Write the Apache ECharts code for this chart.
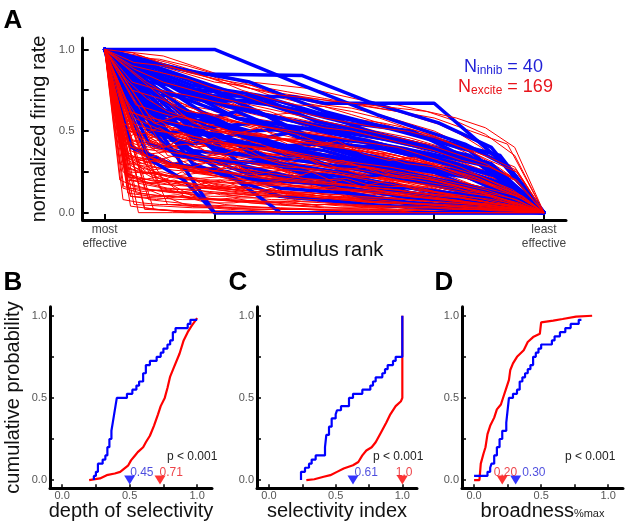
<!DOCTYPE html>
<html><head><meta charset="utf-8">
<script src="https://cdn.jsdelivr.net/npm/echarts@6/dist/echarts.min.js"></script>
<style>html,body{margin:0;padding:0;background:#fff}#c{width:625px;height:525px}</style>
</head><body><div id="c"></div>
<script>
// ---------- Panel A data ----------
// inhibitory neurons: [normalized rank, normalized rate]
const inhibCurves = [
 [[0,1],[.25,1],[.44,.79],[.62,.6],[.82,.42],[.92,.28],[1,0]],
 [[0,1],[.12,.72],[.43,.71],[.5,.67],[.75,.67],[.9,.32],[1,0]],
 [[0,1],[.25,0],[1,0]],
 [[0,1],[.14,.9],[.22,.85],[.45,.84],[.6,.68],[.76,.55],[.88,.4],[1,0]],
 [[0,1],[.1,.33],[.18,.2],[.25,0],[1,0]],
 [[0,1],[.19,.82],[.36,.6],[.55,.5],[.72,.4],[.86,.3],[1,0]],
 [[0,1],[.08,.7],[.2,.55],[.3,.62],[.45,.45],[.6,.35],[.8,.25],[1,0]],
 [[0,1],[.2,.6],[.33,.5],[.5,.52],[.65,.38],[.78,.3],[.9,.22],[1,0]],
 [[0,1],[.1,.8],[.3,.72],[.55,.55],[.7,.5],[.85,.3],[1,0]],
 [[0,1],[.15,.45],[.3,.2],[.4,0],[1,0]],
 [[0,1],[.12,.6],[.25,.4],[.38,.3],[.5,.2],[.62,.15],[.75,.1],[.88,.05],[1,0]],
 [[0,1],[.1,.5],[.2,.42],[.3,.48],[.42,.38],[.55,.3],[.7,.22],[.85,.12],[1,0]],
 [[0,1],[.17,.75],[.28,.65],[.4,.58],[.52,.5],[.64,.45],[.78,.38],[.9,.25],[1,0]],
 [[0,1],[.05,.8],[.14,.55],[.25,.48],[.36,.4],[.48,.42],[.6,.32],[.74,.25],[.87,.2],[1,0]],
 [[0,1],[.22,.62],[.35,.45],[.48,.35],[.6,.25],[.73,.18],[.86,.1],[1,0]],
 [[0,1],[.08,.58],[.16,.35],[.3,.3],[.42,.22],[.56,.2],[.7,.12],[.85,.08],[1,0]],
 [[0,1],[.13,.83],[.26,.7],[.38,.66],[.5,.6],[.62,.48],[.75,.4],[.88,.3],[1,0]],
 [[0,1],[.2,.45],[.4,.4],[.6,.2],[.8,.1],[1,0]],
 [[0,1],[.1,.65],[.22,.52],[.35,.55],[.45,.48],[.58,.4],[.7,.38],[.82,.28],[.92,.2],[1,0]],
 [[0,1],[.33,.7],[.5,.55],[.67,.45],[.83,.35],[1,0]],
 [[0,1],[.06,.4],[.15,.3],[.28,.25],[.4,.15],[.55,.12],[.7,.06],[.85,.03],[1,0]],
 [[0,1],[.25,.38],[.5,.3],[.75,.18],[1,0]],
 [[0,1],[.09,.78],[.18,.7],[.3,.58],[.4,.5],[.52,.45],[.63,.42],[.76,.35],[.88,.28],[1,0]],
 [[0,1],[.14,.68],[.28,.45],[.42,.28],[.56,.12],[.7,.05],[.85,.02],[1,0]],
 [[0,1],[.2,.3],[.4,.1],[.6,.05],[.8,.02],[1,0]],
 [[0,1],[.11,.55],[.22,.6],[.33,.44],[.44,.5],[.56,.36],[.67,.3],[.78,.25],[.89,.18],[1,0]],
 [[0,1],[.17,.88],[.33,.8],[.5,.62],[.67,.5],[.83,.38],[1,0]],
 [[0,1],[.12,.48],[.24,.52],[.36,.32],[.48,.27],[.6,.22],[.72,.28],[.84,.15],[1,0]],
 [[0,1],[.07,.62],[.2,.38],[.33,.35],[.45,.25],[.6,.2],[.72,.1],[.86,.05],[1,0]],
 [[0,1],[.25,.75],[.38,.58],[.5,.42],[.62,.4],[.75,.32],[.88,.2],[1,0]],
 [[0,1],[.1,.42],[.25,.32],[.4,.3],[.55,.18],[.7,.15],[.85,.1],[1,0]],
 [[0,1],[.15,.66],[.3,.5],[.45,.38],[.6,.3],[.72,.26],[.85,.22],[.95,.12],[1,0]],
 [[0,1],[.3,.58],[.45,.52],[.6,.44],[.8,.3],[.92,.2],[1,0]],
 [[0,1],[.05,.72],[.12,.5],[.22,.35],[.36,.2],[.48,.18],[.6,.08],[.75,.05],[.9,.02],[1,0]],
 [[0,1],[.2,.7],[.35,.62],[.5,.4],[.6,.35],[.7,.3],[.82,.25],[.94,.15],[1,0]],
 [[0,1],[.13,.6],[.25,.55],[.38,.42],[.5,.38],[.63,.28],[.75,.2],[.88,.14],[1,0]],
 [[0,1],[.1,.88],[.2,.78],[.35,.72],[.5,.6],[.65,.52],[.8,.42],[.9,.35],[1,0]],
 [[0,1],[.33,.25],[.67,.1],[1,0]],
 [[0,1],[.18,.5],[.3,.44],[.42,.35],[.55,.32],[.68,.25],[.8,.18],[.92,.1],[1,0]],
 [[0,1],[.08,.85],[.16,.78],[.26,.68],[.36,.7],[.48,.56],[.6,.5],[.72,.42],[.85,.32],[1,0]]
];
// excitatory neurons: normalized rate (%) for each stimulus, ordered by rank
const exciteCurves = [
 [100,95,90,85,80,78,72,68,65,60,55,50,45,38,30,20,0],
 [100,98,92,86,82,75,70,66,65,62,58,52,47,40,32,25,0],
 [100,90,88,80,76,70,68,62,58,55,50,48,42,35,28,0],
 [100,85,82,76,70,66,60,58,55,52,48,44,40,35,30,22,15,0],
 [100,80,75,72,68,65,62,56,52,50,46,42,38,32,28,20,0],
 [100,92,84,78,70,62,58,52,48,45,40,35,30,26,20,0],
 [100,70,68,65,60,58,55,50,48,44,40,38,32,28,22,15,0],
 [100,75,70,62,60,55,52,48,42,40,35,30,28,22,18,12,0],
 [100,60,58,55,52,50,48,45,42,38,35,32,30,26,22,18,12,0],
 [100,65,62,58,54,50,46,44,40,36,32,30,28,24,20,14,0],
 [100,55,50,48,45,42,40,38,35,32,30,28,25,22,18,14,10,0],
 [100,50,46,44,40,38,36,32,30,28,26,24,20,18,14,10,0],
 [100,45,42,40,38,35,32,30,28,26,24,22,20,18,15,12,8,5,0],
 [100,40,38,36,34,32,30,28,27,25,22,20,18,15,12,10,6,0],
 [100,35,32,30,28,27,26,24,22,20,19,18,16,14,12,10,8,5,0],
 [100,30,28,26,25,24,22,21,20,18,17,16,14,12,10,8,6,4,2,0],
 [100,25,24,22,20,19,18,17,16,15,14,13,12,10,9,8,6,5,3,0],
 [100,20,18,17,16,15,14,13,12,11,10,9,8,7,6,5,4,3,2,1,0],
 [100,15,14,13,12,12,11,10,9,9,8,7,6,5,5,4,3,2,1,0],
 [100,10,9,8,8,7,7,6,5,5,4,4,3,3,2,2,1,0],
 [100,5,4,3,3,2,2,2,1,1,1,0,0,0,0,0],
 [100,2,1,1,0,0,0,0,0,0,0,0],
 [100,28,20,18,15,13,12,10,8,7,6,5,4,3,2,0],
 [100,38,30,25,22,20,18,15,12,10,9,8,6,4,2,0],
 [100,48,40,35,32,30,28,25,22,20,18,15,12,9,5,0],
 [100,58,50,45,42,40,38,34,30,28,25,22,18,14,8,0],
 [100,68,60,55,50,48,45,42,38,35,32,28,24,18,10,0],
 [100,78,70,65,62,58,55,50,46,42,38,34,30,24,16,0],
 [100,88,80,75,70,66,62,58,54,50,46,42,36,30,20,0],
 [100,95,94,90,85,80,74,70,66,64,60,55,50,42,34,25,0],
 [100,40,32,28,22,18,14,10,5,0],
 [100,55,45,40,35,30,24,18,10,0],
 [100,70,60,52,45,38,30,22,12,0],
 [100,30,25,20,18,15,12,8,4,0],
 [100,20,15,12,10,8,6,4,2,0],
 [100,85,72,62,55,46,38,28,15,0],
 [100,50,40,32,25,18,10,0],
 [100,35,28,22,16,10,5,0],
 [100,62,48,40,32,22,12,0],
 [100,80,62,50,40,30,15,0],
 [100,35,30,33,28,26,28,24,22,23,20,19,18,20,16,15,14,12,11,10,8,6,5,3,0],
 [100,45,50,42,40,44,38,36,38,32,30,32,28,26,27,24,22,20,18,15,12,10,7,4,0],
 [100,25,20,22,18,15,17,14,12,14,11,10,9,10,8,7,6,5,5,4,3,2,1,1,0],
 [100,55,48,52,45,42,46,40,38,40,35,34,30,32,28,26,22,20,18,16,12,10,6,3,0],
 [100,15,12,10,11,9,8,9,7,6,7,5,5,4,4,3,3,2,2,1,1,1,0,0,0],
 [100,65,58,60,55,52,54,48,45,47,42,40,38,40,35,32,30,28,25,20,16,12,8,4,0],
 [100,8,6,5,5,4,4,3,3,3,2,2,2,1,1,1,1,0,0,0,0,0,0,0,0],
 [100,42,36,38,30,32,28,25,26,22,20,22,18,15,16,12,10,8,5,0],
 [100,52,46,48,42,40,42,36,34,35,30,28,29,25,22,20,16,12,6,0],
 [100,22,18,20,16,15,16,13,12,12,10,9,9,8,7,6,5,3,2,0],
 [100,32,26,28,24,22,22,20,18,17,16,14,14,12,10,9,7,5,3,0],
 [100,72,66,68,60,58,60,54,50,52,46,44,42,38,36,32,28,22,12,0],
 [100,12,10,10,8,8,7,6,6,5,5,4,4,3,3,2,2,1,1,0],
 [100,40,30,34,26,28,22,20,18,15,12,10,6,0],
 [100,60,52,55,48,44,46,40,36,32,28,20,12,0],
 [100,18,14,15,12,10,11,9,8,6,5,4,2,0],
 [100,76,70,72,64,60,62,56,50,46,40,32,20,0],
 [100,28,22,25,20,18,19,16,14,12,10,8,4,0],
 [100,3,0,0,0,0,0,0,0,0,0,0],
 [100,4,2,1,1,1,0,0,0,0,0,0,0,0,0,0,0,0],
 [100,15,5,3,2,2,1,1,0,0,0,0],
 [100,45,35,30,28,26,24,22,20,19,18,17,16,15,14,12,10,9,7,5,3,0],
 [100,58,45,40,36,34,32,30,28,27,26,25,24,22,20,18,16,14,12,8,4,0],
 [100,68,55,48,45,42,40,38,36,35,34,33,31,29,27,24,21,18,15,10,5,0],
 [100,82,70,62,58,54,50,48,46,45,44,42,40,38,35,32,28,24,20,14,8,0],
 [100,35,25,22,20,19,18,17,16,15,14,13,12,11,10,9,8,6,5,3,2,0],
 [100,25,18,15,14,13,12,11,10,9,9,8,8,7,6,5,4,3,2,2,1,0],
 [100,90,80,72,65,60,56,54,52,50,48,46,44,42,40,36,32,28,22,16,10,0],
 [100,97,95,92,88,84,80,76,74,72,70,68,66,64,62,58,54,48,40,30,18,0],
 [100,98,96,90,84,80,78,76,72,68,66,62,56,48,35,0],
 [100,92,90,86,80,76,72,70,68,66,64,62,58,52,40,0],
 [100,96,88,82,78,74,70,66,62,58,50,42,0],
 [100,20,18,25,15,14,20,12,11,15,9,8,12,6,5,4,2,0],
 [100,30,35,26,24,30,22,20,25,18,16,20,14,12,10,8,5,0],
 [100,50,44,52,40,38,45,34,32,38,28,26,30,22,18,14,8,0],
 [100,38,32,36,30,28,32,25,22,26,20,18,20,15,12,9,5,0],
 [100,62,55,60,50,48,52,44,40,44,36,32,34,28,22,16,10,0],
 [100,15,8,5,3,2,1,0,0],
 [100,45,30,22,15,10,6,3,0],
 [100,60,45,38,30,25,20,15,10,5,0],
 [100,25,20,16,13,10,8,6,4,2,0],
 [100,8,5,4,3,2,2,1,1,0,0],
 [100,30,26,24,23,22,21,20,20,19,18,17,17,16,15,14,14,13,12,11,10,9,8,7,6,5,4,3,1,0],
 [100,48,42,40,38,36,35,34,33,32,31,30,29,28,27,26,25,24,22,20,18,16,14,12,10,8,6,4,2,0],
 [100,20,16,14,13,12,11,10,10,9,9,8,8,7,7,6,6,5,5,4,4,3,3,2,2,1,1,1,0,0],
 [100,40,34,32,30,28,27,26,25,24,23,22,21,20,19,18,17,16,15,14,13,12,11,10,8,7,5,4,2,0],
 [100,58,52,50,48,46,44,43,42,41,40,38,37,36,35,34,32,31,30,28,26,24,22,20,17,14,11,8,4,0],
 [100,33,28,26,24,20,22,18,16,18,14,12,8,5,0],
 [100,12,10,9,8,7,7,6,5,4,4,3,2,1,0],
 [100,48,40,38,35,36,30,28,30,25,22,18,14,8,0],
 [100,86,78,70,65,60,58,54,50,46,42,38,30,22,0],
 [100,66,60,56,50,48,44,42,38,36,32,28,22,14,0],
 [100,50,48,45,40,42,38,35,36,30,28,30,24,22,20,16,14,10,6,0],
 [100,35,30,28,25,26,22,20,22,18,16,17,14,12,10,9,7,5,3,0],
 [100,62,58,55,52,50,48,46,44,42,40,38,36,32,30,26,22,16,10,0],
 [100,74,68,64,60,58,55,52,50,48,46,44,42,40,36,32,26,20,12,0],
 [100,85,82,78,74,70,68,66,64,62,60,57,55,52,48,42,36,28,18,0],
 [100,22,20,19,17,16,15,14,13,12,11,10,9,8,7,6,5,3,2,0],
 [100,40,30,20,12,5,0],
 [100,65,50,38,25,12,0],
 [100,55,38,22,10,0],
 [100,20,10,5,2,0],
 [100,44,38,40,35,34,36,31,30,31,27,26,27,24,22,22,19,17,15,13,10,7,4,0],
 [100,28,24,25,22,21,22,19,18,19,16,15,16,13,12,12,10,9,8,6,5,3,2,0],
 [100,70,64,66,60,58,58,55,52,52,48,46,46,42,40,38,34,30,26,22,18,12,6,0],
 [100,16,13,14,12,11,12,10,9,10,8,8,8,7,6,6,5,4,4,3,2,2,1,0],
 [100,90,86,82,76,72,66,62,58,55,52,50,46,40,34,26,0],
 [100,78,74,70,66,62,58,55,52,48,45,42,38,34,28,20,0],
 [100,56,50,52,46,44,42,40,36,34,32,30,26,22,16,10,0],
 [100,44,40,42,36,34,34,30,28,27,24,22,20,16,12,8,0],
 [100,0,0,0,0,0,0,0,0,0,0,0,0,0],
 [100,2,0,0,0,0,0,0,0,0],
 [100,5,2,0,0,0,0,0],
 [100,30,10,5,3,2,1,1,0,0,0,0],
 [100,50,20,10,8,6,5,4,3,3,2,2,1,1,0,0],
 [100,60,40,30,25,22,20,18,17,16,15,14,13,12,10,8,6,4,2,0],
 [100,80,60,50,45,42,40,38,36,34,32,30,28,26,24,20,16,12,6,0],
 [100,92,75,62,55,50,45,40,35,28,20,12,0],
 [100,70,50,40,35,32,30,28,27,26,25,24,22,21,20,18,16,14,12,8,4,0],
 [100,10,8,10,6,6,8,5,4,6,3,3,4,2,2,1,1,0],
 [100,36,30,27,32,26,24,28,22,20,23,18,17,20,15,13,15,11,9,10,7,5,3,0],
 [100,52,44,40,46,38,36,40,33,31,34,28,26,28,23,21,22,18,15,12,8,4,0],
 [100,24,20,17,21,16,14,17,13,12,14,10,9,11,8,7,8,6,4,2,0],
 [100,64,56,50,54,47,44,47,41,38,40,34,32,33,28,25,24,19,14,8,0],
 [100,42,34,30,28,32,26,24,26,21,20,21,17,16,16,13,11,9,6,3,0],
 [100,30,22,19,17,20,15,14,16,12,11,12,9,8,8,6,5,3,1,0],
 [100,56,47,43,40,44,37,35,37,31,29,30,25,23,22,18,15,11,6,0],
 [100,18,14,12,14,11,10,11,9,8,9,7,6,6,5,4,3,2,1,0]
];
const rankTickLabels = ['most\neffective', 'least\neffective'];
const nInhib = 40, nExcite = 169;

// ---------- Panels B-D data ----------
const depthInhib = [[0.235,0],[0.235,0.025],[0.25,0.05],[0.265,0.1],[0.3,0.125],[0.32,0.15],[0.335,0.2],[0.35,0.25],[0.365,0.3],[0.375,0.35],[0.385,0.4],[0.395,0.45],[0.405,0.5],[0.48,0.525],[0.52,0.55],[0.55,0.575],[0.57,0.6],[0.6,0.65],[0.62,0.7],[0.65,0.725],[0.7,0.75],[0.73,0.775],[0.75,0.8],[0.78,0.825],[0.8,0.85],[0.82,0.9],[0.84,0.925],[0.93,0.95],[0.95,0.975],[1.0,0.975]];
const depthExcite = [[0.2,0],[0.28,0.01],[0.33,0.03],[0.39,0.04],[0.43,0.05],[0.46,0.07],[0.49,0.09],[0.51,0.12],[0.54,0.15],[0.56,0.17],[0.6,0.2],[0.62,0.23],[0.65,0.27],[0.68,0.33],[0.71,0.4],[0.73,0.45],[0.76,0.5],[0.78,0.56],[0.8,0.63],[0.83,0.69],[0.87,0.77],[0.9,0.85],[0.93,0.9],[0.96,0.94],[1.0,0.985]];
const siInhib = [[0.24,0],[0.24,0.05],[0.27,0.075],[0.3,0.1],[0.32,0.125],[0.35,0.15],[0.42,0.2],[0.43,0.275],[0.45,0.325],[0.47,0.375],[0.5,0.4],[0.51,0.425],[0.54,0.45],[0.6,0.5],[0.63,0.525],[0.7,0.55],[0.76,0.575],[0.78,0.6],[0.8,0.625],[0.85,0.65],[0.87,0.675],[0.89,0.7],[0.93,0.725],[0.95,0.75],[1.0,1.0]];
const siExcite = [[0.28,0],[0.34,0.005],[0.41,0.02],[0.46,0.03],[0.51,0.05],[0.56,0.07],[0.63,0.09],[0.67,0.11],[0.7,0.15],[0.73,0.18],[0.77,0.2],[0.8,0.23],[0.84,0.29],[0.88,0.35],[0.91,0.4],[0.95,0.45],[0.99,0.48],[1.0,0.5],[1.0,1.0]];
const broadInhib = [[0.0,0.025],[0.1,0.05],[0.12,0.075],[0.13,0.1],[0.15,0.15],[0.17,0.2],[0.19,0.25],[0.21,0.3],[0.24,0.35],[0.25,0.425],[0.26,0.5],[0.29,0.525],[0.32,0.55],[0.34,0.6],[0.36,0.625],[0.38,0.65],[0.4,0.675],[0.42,0.7],[0.44,0.75],[0.46,0.775],[0.48,0.8],[0.5,0.825],[0.58,0.85],[0.6,0.875],[0.64,0.9],[0.68,0.925],[0.72,0.95],[0.78,0.975],[0.8,0.975]];
const broadExcite = [[0.0,0.0],[0.04,0.0],[0.05,0.1],[0.07,0.16],[0.085,0.2],[0.1,0.28],[0.12,0.33],[0.15,0.38],[0.17,0.43],[0.2,0.46],[0.22,0.51],[0.24,0.56],[0.26,0.61],[0.27,0.67],[0.29,0.71],[0.32,0.75],[0.37,0.79],[0.4,0.84],[0.44,0.87],[0.49,0.89],[0.5,0.96],[0.59,0.97],[0.66,0.98],[0.76,0.995],[0.88,1.0]];
// median markers [inhib, excite] and their printed labels
const depthMedians = [0.5, 0.725], depthMedianText = ['0.45', '0.71'];
const siMedians = [0.63, 1.0], siMedianText = ['0.61', '1.0'];
const broadMedians = [0.31, 0.21], broadMedianText = ['0.30', '0.20'];
const pText = 'p < 0.001';
const cdfTicks = [0, 0.25, 0.5, 0.75, 1], cdfLabels = [0, 0.5, 1];

// ---------- build ----------
const FONT = "'Liberation Sans', Arial, Helvetica, sans-serif";
const BLUE = '#0000ff', RED = '#ff0000', TBLUE = '#1f1fd6', TRED = '#e8141b';
const chart = echarts.init(document.getElementById('c'), null, {renderer: 'canvas'});

const smallGrids = [
  {left: 50, top: 306.7, width: 162, height: 181.6},
  {left: 257, top: 306.7, width: 160, height: 181.6},
  {left: 462, top: 306.7, width: 161, height: 181.6}
];
const grids = [{left: 82.7, top: 38, width: 483.3, height: 182}].concat(smallGrids)
  .map(g => Object.assign({containLabel: false, outerBoundsMode: 'none'}, g));

const axLine = {show: true, onZero: false, lineStyle: {color: '#000', width: 3}};
const fmt1 = v => v.toFixed(1);

const xAxes = [{
  gridIndex: 0, type: 'value', min: -0.05, max: 1.05,
  axisLine: axLine, splitLine: {show: false},
  axisTick: {show: true, inside: true, length: 6, lineStyle: {color: '#000', width: 2}, customValues: [0, 0.25, 0.5, 0.75, 1]},
  axisLabel: {show: true, customValues: [0, 1], margin: 3, color: '#444', fontSize: 12, lineHeight: 14, fontFamily: FONT,
    formatter: v => v < 0.5 ? rankTickLabels[0] : rankTickLabels[1]},
  name: 'stimulus rank', nameLocation: 'middle', nameGap: 20, nameMoveOverlap: false,
  nameTextStyle: {fontSize: 20, color: '#111', fontFamily: FONT}
}];
const yAxes = [{
  gridIndex: 0, type: 'value', min: -0.045, max: 1.07,
  axisLine: axLine, splitLine: {show: false},
  axisTick: {show: true, inside: true, length: 6, lineStyle: {color: '#000', width: 2}, customValues: [0, 0.25, 0.5, 0.75, 1]},
  axisLabel: {show: true, customValues: [0, 0.5, 1], margin: 8, color: '#555', fontSize: 11.5, fontFamily: FONT, formatter: fmt1},
  name: 'normalized firing rate', nameLocation: 'middle', nameGap: 33, nameMoveOverlap: false,
  nameTextStyle: {fontSize: 20, color: '#111', fontFamily: FONT}
}];
const smallNames = ['depth of selectivity', 'selectivity index', '{a|broadness}{s|%max}'];
for (let k = 0; k < 3; k++) {
  xAxes.push({
    gridIndex: k + 1, type: 'value', min: -0.09, max: 1.11,
    axisLine: axLine, splitLine: {show: false},
    axisTick: {show: true, inside: true, length: 4, lineStyle: {color: '#000', width: 1.5}, customValues: cdfTicks},
    axisLabel: {show: true, customValues: cdfLabels, margin: 2, color: '#555', fontSize: 11, fontFamily: FONT, formatter: fmt1},
    name: smallNames[k], nameLocation: 'middle', nameGap: 13, nameMoveOverlap: false,
    nameTextStyle: {fontSize: 20, color: '#111', fontFamily: FONT,
      rich: {a: {fontSize: 20, color: '#111', fontFamily: FONT}, s: {fontSize: 11, color: '#222', fontFamily: FONT, verticalAlign: 'bottom', padding: [0, 0, 2, 0]}}}
  });
  yAxes.push({
    gridIndex: k + 1, type: 'value', min: -0.05, max: 1.055,
    axisLine: axLine, splitLine: {show: false},
    axisTick: {show: true, inside: true, length: 4, lineStyle: {color: '#000', width: 1.5}, customValues: cdfTicks},
    axisLabel: {show: true, customValues: cdfLabels, margin: 3, color: '#555', fontSize: 11, fontFamily: FONT, formatter: fmt1},
    name: k === 0 ? 'cumulative probability' : '', nameLocation: 'middle', nameGap: 27, nameMoveOverlap: false,
    nameTextStyle: {fontSize: 20, color: '#111', fontFamily: FONT}
  });
}

const series = [];
const toCoords = vals => ({coords: vals.map((v, i) => [i / (vals.length - 1), v / 100])});
// excitatory curves drawn in two layers (under and over the inhibitory ones)
series.push({
  type: 'lines', coordinateSystem: 'cartesian2d', xAxisIndex: 0, yAxisIndex: 0, polyline: true, silent: true, z: 2,
  lineStyle: {color: RED, width: 1, opacity: 1},
  data: exciteCurves.filter((c, i) => i % 3 !== 1).map(toCoords)
});
series.push({
  type: 'lines', coordinateSystem: 'cartesian2d', xAxisIndex: 0, yAxisIndex: 0, polyline: true, silent: true, z: 3,
  lineStyle: {color: BLUE, width: 3.5, opacity: 1, join: 'round', cap: 'round'},
  data: inhibCurves.map(c => ({coords: c}))
});
series.push({
  type: 'lines', coordinateSystem: 'cartesian2d', xAxisIndex: 0, yAxisIndex: 0, polyline: true, silent: true, z: 4,
  lineStyle: {color: RED, width: 1, opacity: 1},
  data: exciteCurves.filter((c, i) => i % 3 === 1).map(toCoords)
});

const cdfSets = [
  {inh: depthInhib, exc: depthExcite, med: depthMedians, txt: depthMedianText, off: [[6, -3], [5, -3]]},
  {inh: siInhib, exc: siExcite, med: siMedians, txt: siMedianText, off: [[7, -3], [-1, -3]]},
  {inh: broadInhib, exc: broadExcite, med: broadMedians, txt: broadMedianText, off: [[12, -3], [-3, -3]]}
];
cdfSets.forEach((s, k) => {
  const ax = k + 1;
  series.push({type: 'line', xAxisIndex: ax, yAxisIndex: ax, data: s.exc, showSymbol: false, silent: true, z: 2,
    lineStyle: {color: RED, width: 2.2}});
  series.push({type: 'line', xAxisIndex: ax, yAxisIndex: ax, data: s.inh, step: 'end', showSymbol: false, silent: true, z: 3,
    lineStyle: {color: BLUE, width: 2.2}});
  series.push({type: 'scatter', xAxisIndex: ax, yAxisIndex: ax, symbol: 'triangle', symbolRotate: 180, symbolSize: [11, 9], z: 4, silent: true,
    data: [0, 1].map(j => ({
      value: [s.med[j], 0],
      itemStyle: {color: j === 0 ? BLUE : RED},
      label: {show: true, formatter: s.txt[j], position: s.off[j], align: 'left', verticalAlign: 'middle',
        color: j === 0 ? TBLUE : TRED, fontSize: 12, fontFamily: FONT}
    }))
  });
});

const letter = (t, x, y) => ({type: 'text', x, y, style: {text: t, font: 'bold 26px ' + FONT, fill: '#000', align: 'center', verticalAlign: 'middle'}});
const ptext = (x) => ({type: 'text', x, y: 457, style: {text: pText, font: '12px ' + FONT, fill: '#222', verticalAlign: 'middle'}});
const graphic = [
  letter('A', 13, 21), letter('B', 13, 283), letter('C', 238, 283), letter('D', 444, 283),
  ptext(167), ptext(373), ptext(565),
  {type: 'text', x: 464, y: 67, style: {text: '{b|N}{s|inhib}{b| = ' + nInhib + '}', verticalAlign: 'middle',
    rich: {b: {fontSize: 18, fontFamily: FONT, fill: TBLUE, lineHeight: 20}, s: {fontSize: 12, fontFamily: FONT, fill: TBLUE, verticalAlign: 'bottom', lineHeight: 14}}}},
  {type: 'text', x: 458, y: 87, style: {text: '{b|N}{s|excite}{b| = ' + nExcite + '}', verticalAlign: 'middle',
    rich: {b: {fontSize: 18, fontFamily: FONT, fill: TRED, lineHeight: 20}, s: {fontSize: 12, fontFamily: FONT, fill: TRED, verticalAlign: 'bottom', lineHeight: 14}}}}
];

chart.setOption({
  animation: false,
  backgroundColor: '#fff',
  textStyle: {fontFamily: FONT},
  grid: grids, xAxis: xAxes, yAxis: yAxes, series, graphic
});
</script></body></html>
